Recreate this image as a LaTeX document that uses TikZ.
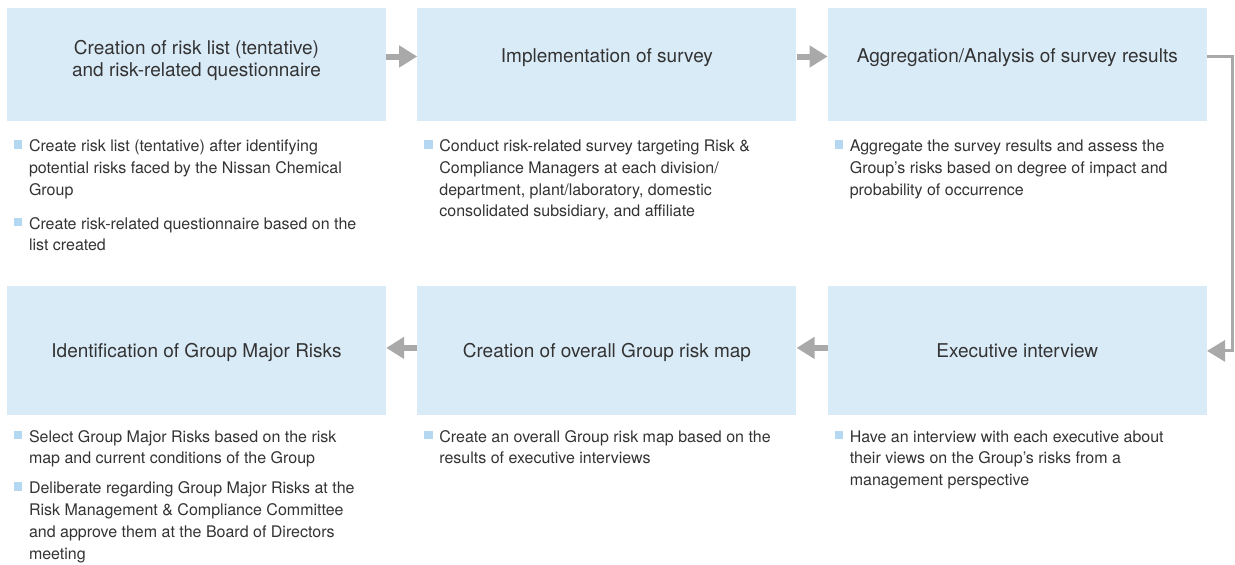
\documentclass[tikz,border=0pt]{standalone}
\usepackage{fontspec}
\setmainfont{TeX Gyre Heros}
\usetikzlibrary{positioning,arrows.meta}

\definecolor{boxblue}{HTML}{DAEBF8}
\definecolor{bulletblue}{HTML}{B5D8F2}
\definecolor{arrowgray}{HTML}{A9A9A9}
\definecolor{textgray}{HTML}{333333}

% square bullet hanging left of the text, then the lines of one item
\newcommand{\sqbullet}{\makebox[0pt][r]{\textcolor{bulletblue}{\rule[3pt]{8.5pt}{8.5pt}}\hspace{6.5pt}}}
\newcommand{\notetext}[1]{\sqbullet\parbox[t]{360pt}{\strut#1\strut}}

\tikzset{
  stepbox/.style={rectangle, fill=boxblue, minimum width=379pt, minimum height=113pt, inner sep=0pt},
  lowbox/.style={stepbox, minimum height=129pt},
  steptitle/.style={text=textgray, font=\fontsize{19}{22}\selectfont, align=center, inner sep=0pt, anchor=base},
  note/.style={text=textgray, font=\fontsize{16}{21.7}\selectfont, inner sep=0pt, anchor=base west},
  flow/.style={arrowgray, line width=6pt, -{Triangle[length=18pt,width=21pt]}},
  loopback/.style={arrowgray, line width=3pt, -{Triangle[length=18pt,width=21pt]}},
}

\begin{document}
\begin{tikzpicture}[x=1pt,y=-1pt]
\useasboundingbox (0,0) rectangle (1235,565);

% steps 1-3 (top row, left to right)
\node[stepbox] (s1) at (196.5,64.5) {};
\node[stepbox, right=31pt of s1] (s2) {};
\node[stepbox, right=31pt of s2] (s3) {};

% steps 4-6 (bottom row, right to left)
\node[lowbox, below=165pt of s3] (s4) {};
\node[lowbox, below=165pt of s2] (s5) {};
\node[lowbox, below=165pt of s1] (s6) {};

% base of a two-line title is its last line
\node[steptitle] (t1) at ([yshift=-69pt]s1.north) {Creation of risk list (tentative)\\and risk-related questionnaire};
\node[steptitle] (t2) at ([yshift=-55pt]s2.north) {Implementation of survey};
\node[steptitle] (t3) at ([yshift=-55pt]s3.north) {Aggregation/Analysis of survey results};
\node[steptitle] (t4) at ([yshift=-71pt]s4.north) {Executive interview};
\node[steptitle] (t5) at ([yshift=-71pt]s5.north) {Creation of overall Group risk map};
\node[steptitle] (t6) at ([yshift=-71pt]s6.north) {Identification of Group Major Risks};

% arrows between the steps
\draw[flow] ([yshift=8pt]s1.east) -- ([yshift=8pt]s2.west);
\draw[flow] ([yshift=8pt]s2.east) -- ([yshift=8pt]s3.west);
\draw[loopback] ([yshift=8pt]s3.east) -- ++(25.5pt,0) |- (s4.east);
\draw[flow] ([yshift=3pt]s4.west) -- ([yshift=3pt]s5.east);
\draw[flow] ([yshift=3pt]s5.west) -- ([yshift=3pt]s6.east);

% notes under the boxes
\node[note] (n1) at ([xshift=22pt,yshift=-30.5pt]s1.south west)
  {\notetext{Create risk list (tentative) after identifying\\potential risks faced by the Nissan Chemical\\Group}};
\node[note, below right=12pt and 0pt of n1.south west] (n1b)
  {\notetext{Create risk-related questionnaire based on the\\list created}};
\node[note] (n2) at ([xshift=22pt,yshift=-30.5pt]s2.south west)
  {\notetext{Conduct risk-related survey targeting Risk \&\\Compliance Managers at each division/\\department, plant/laboratory, domestic\\consolidated subsidiary, and affiliate}};
\node[note] (n3) at ([xshift=22pt,yshift=-30.5pt]s3.south west)
  {\notetext{Aggregate the survey results and assess the\\Group's risks based on degree of impact and\\probability of occurrence}};
\node[note] (n4) at ([xshift=22pt,yshift=-26.5pt]s4.south west)
  {\notetext{Have an interview with each executive about\\their views on the Group's risks from a\\management perspective}};
\node[note] (n5) at ([xshift=22pt,yshift=-26.5pt]s5.south west)
  {\notetext{Create an overall Group risk map based on the\\results of executive interviews}};
\node[note] (n6) at ([xshift=22pt,yshift=-26.5pt]s6.south west)
  {\notetext{Select Group Major Risks based on the risk\\map and current conditions of the Group}};
\node[note, below right=8pt and 0pt of n6.south west] (n6b)
  {\notetext{Deliberate regarding Group Major Risks at the\\Risk Management \& Compliance Committee\\and approve them at the Board of Directors\\meeting}};

\end{tikzpicture}
\end{document}
